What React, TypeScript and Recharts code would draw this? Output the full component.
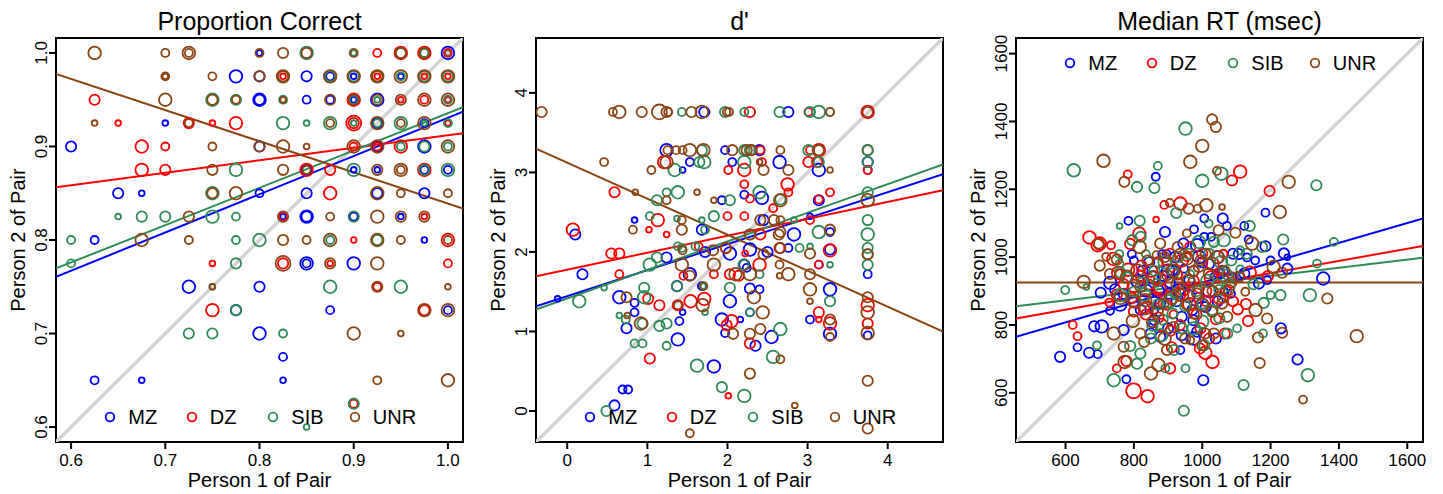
import React from 'react';
import { ScatterChart, Scatter, XAxis, YAxis, ReferenceLine, ReferenceArea, Legend } from 'recharts';

const FONT = '"Liberation Sans", Arial, Helvetica, sans-serif';

const groups = ['MZ', 'DZ', 'SIB', 'UNR'];
const colors = ['#0000FF', '#FF0000', '#2E8B57', '#8B4513'];

// ---- Proportion Correct ----
const pcDomain = [0.584, 1.016];
const pcTicks = [0.6, 0.7, 0.8, 0.9, 1.0];
const pcMZ = [
  [.8, 1, 1], [1, 1, 4], [.775, .975, 4], [.8, .975, 3], [.85, .975, 3], [.875, .975, 2], [.9, .975, 1], [.95, .975, 1],
  [.8, .95, 4], [.8, .95, 3], [.85, .95, 2], [.875, .95, 2], [.9, .95, 1], [.925, .95, 4], [.7, .925, 1], [.925, .925, 3],
  [.975, .925, 2], [.6, .9, 3], [.8, .9, 3], [.925, .9, 3], [.975, .9, 4], [.85, .875, 3], [.9, .875, 1], [.925, .875, 1],
  [.975, .875, 2], [1, .875, 2], [.65, .85, 3], [.675, .85, 1], [.8, .85, 2], [.85, .85, 3], [.925, .85, 3], [.975, .85, 3],
  [.825, .825, 1], [.85, .825, 4], [.85, .825, 3], [.9, .825, 2], [.95, .825, 1], [.625, .8, 2], [.975, .8, 1],
  [.85, .775, 4], [.85, .775, 2], [.9, .775, 4], [.725, .75, 4], [.8, .75, 3], [.775, .725, 3], [.875, .725, 2],
  [1, .725, 2], [.8, .7, 4], [.825, .675, 2], [.625, .65, 2], [.675, .65, 1], [.825, .65, 1],
];
const pcDZ = [
  [.925, 1, 2], [.95, 1, 4], [.975, 1, 4], [1, 1, 2], [.825, .975, 1], [.925, .975, 1], [.975, .975, 1], [1, .975, 1],
  [.625, .95, 3], [.9, .95, 4], [.95, .95, 1], [.975, .95, 2], [1, .95, 1], [.65, .925, 1], [.725, .925, 3], [.75, .925, 1],
  [.775, .925, 4], [.9, .925, 5], [.9, .925, 3], [1, .925, 1], [.675, .9, 4], [.7, .9, 2], [.9, .9, 2], [.925, .9, 2],
  [.95, .9, 4], [.675, .875, 4], [.7, .875, 3], [.85, .875, 4], [.875, .875, 3], [.975, .875, 4], [.875, .85, 4],
  [.825, .825, 2], [.975, .825, 1], [.9, .8, 1], [1, .8, 4], [.75, .775, 1], [.825, .775, 3], [.875, .775, 1],
  [1, .775, 2], [.925, .75, 2], [.75, .725, 4], [.975, .725, 3], [.9, .625, 2],
];
const pcSIB = [
  [.85, 1, 4], [.9, 1, 1], [.95, 1, 3], [.975, 1, 2], [.875, .975, 3], [.9, .975, 3], [.95, .975, 2], [.975, .975, 3],
  [1, .975, 3], [.75, .95, 4], [.775, .95, 3], [.825, .95, 2], [.9, .95, 2], [.925, .95, 1], [1, .95, 2], [.825, .925, 4],
  [.85, .925, 1], [.875, .925, 4], [.9, .925, 1], [.925, .925, 2], [.95, .925, 4], [.975, .925, 1], [1, .925, 2],
  [.95, .9, 2], [.975, .9, 3], [1, .9, 2], [.775, .875, 4], [.9, .875, 4], [.975, .875, 3], [1, .875, 4], [.75, .85, 4],
  [.65, .825, 1], [.675, .825, 3], [.7, .825, 3], [.75, .825, 4], [.775, .825, 2], [.9, .825, 3], [.6, .8, 2],
  [.775, .8, 2], [.8, .8, 4], [.875, .8, 2], [.925, .8, 3], [.6, .775, 2], [.775, .775, 3], [.75, .75, 1], [.875, .75, 4],
  [.95, .75, 4], [.775, .725, 3], [.725, .7, 3], [.75, .7, 3], [.825, .7, 2], [.9, .625, 3], [.85, .6, 1],
];
const pcUNR = [
  [.625, 1, 4], [.7, 1, 2], [.725, 1, 4], [.725, 1, 2], [.8, 1, 2], [.825, 1, 3], [.85, 1, 3], [.9, 1, 2], [.95, 1, 3],
  [.975, 1, 3], [1, 1, 1], [.7, .975, 2], [.7, .975, 1], [.75, .975, 2], [.8, .975, 3], [.825, .975, 4], [.825, .975, 3],
  [.875, .975, 4], [.9, .975, 4], [.925, .975, 4], [.925, .975, 3], [.95, .975, 4], [.975, .975, 4], [1, .975, 4],
  [.7, .95, 4], [.75, .95, 3], [.775, .95, 2], [.825, .95, 1], [.875, .95, 3], [.9, .95, 3], [.925, .95, 3], [.95, .95, 3],
  [.975, .95, 4], [1, .95, 4], [.625, .925, 1], [.725, .925, 2], [.875, .925, 2], [.925, .925, 4], [.95, .925, 2],
  [.975, .925, 4], [.75, .9, 2], [.8, .9, 3], [.825, .9, 4], [.85, .9, 1], [.9, .9, 4], [.925, .9, 4], [1, .9, 4],
  [.75, .875, 3], [.825, .875, 3], [.85, .875, 2], [.925, .875, 3], [.95, .875, 4], [.95, .875, 2], [.75, .85, 3],
  [.775, .85, 4], [.925, .85, 4], [.95, .85, 2], [1, .85, 2], [.725, .825, 3], [.825, .825, 3], [.875, .825, 2],
  [.925, .825, 4], [.95, .825, 3], [.975, .825, 3], [.675, .8, 4], [.725, .8, 2], [.825, .8, 3], [.85, .8, 2],
  [.875, .8, 4], [.925, .8, 4], [.95, .8, 2], [1, .8, 2], [.825, .775, 5], [.875, .775, 3], [.925, .775, 4],
  [.75, .75, 1], [.925, .75, 3], [1, .75, 1], [.975, .725, 4], [1, .725, 4], [.9, .7, 4], [.95, .7, 1], [.925, .65, 2],
  [1, .65, 4],
];
// intercept, slope per group
const pcFits = [[0.5217, 0.409], [0.7786, 0.1333], [0.5366, 0.399], [1.172, -0.333]];

// ---- d' ----
const dpDomain = [-0.39, 4.69];
const dpTicks = [0, 1, 2, 3, 4];
const dpMZ = [
  [1.71, 3.76, 3], [2.76, 3.76, 3], [1.24, 3.28, 4], [1.97, 3.28, 2], [2.40, 3.28, 3], [1.53, 3.13, 2], [2.06, 3.13, 2],
  [2.65, 3.13, 4], [3.75, 3.13, 3], [1.44, 3.03, 1], [3.14, 3.03, 4], [3.75, 3.03, 2], [1.93, 2.65, 2], [2.21, 2.72, 2],
  [2.43, 2.68, 4], [3.14, 2.65, 3], [0.84, 2.40, 1], [1.68, 2.28, 3], [2.45, 2.40, 3], [3.03, 2.45, 1], [3.28, 2.25, 2],
  [0.10, 2.22, 3], [2.83, 2.22, 4], [2.28, 2.03, 4], [2.03, 1.98, 4], [1.72, 2.00, 3], [2.76, 2.05, 2], [3.28, 2.03, 3],
  [1.24, 1.93, 3], [0.19, 1.72, 3], [0.65, 1.43, 4], [3.75, 1.72, 2], [3.14, 1.84, 2], [1.53, 1.72, 4], [1.37, 1.57, 3],
  [1.68, 1.57, 2], [2.28, 1.54, 3], [2.40, 1.53, 2], [3.28, 1.53, 4], [-0.12, 1.41, 1], [0.84, 1.36, 2], [0.84, 1.24, 2],
  [0.74, 1.04, 3], [1.44, 1.24, 1], [1.40, 1.13, 2], [2.03, 1.38, 4], [1.93, 1.15, 4], [1.97, 0.98, 2], [2.28, 1.24, 2],
  [2.55, 0.93, 4], [3.03, 1.15, 2], [3.28, 0.97, 4], [3.75, 0.95, 2], [2.16, 1.15, 1], [1.38, 0.90, 4], [1.83, 0.56, 4],
  [0.69, 0.27, 2], [0.76, 0.27, 2], [0.59, 0.07, 3], [2.35, 0.82, 3], [2.21, 1.84, 3], [2.24, 1.80, 2], [2.50, 2.00, 3],
];
const dpDZ = [
  [2.28, 3.76, 3], [3.01, 3.76, 2], [3.75, 3.76, 4], [3.03, 3.28, 2], [3.14, 3.28, 4], [3.75, 3.28, 3], [2.41, 3.28, 2],
  [1.21, 3.13, 4], [3.01, 3.13, 3], [3.12, 3.13, 3], [2.43, 3.13, 2], [2.01, 3.03, 2], [2.21, 3.03, 4], [3.75, 3.03, 2],
  [0.59, 2.75, 3], [2.75, 2.85, 4], [2.76, 2.75, 2], [3.28, 2.75, 2], [2.21, 2.85, 2], [2.28, 2.67, 2], [3.14, 2.66, 2],
  [1.13, 2.40, 4], [2.00, 2.45, 2], [2.21, 2.45, 2], [2.57, 2.55, 2], [3.03, 2.40, 2], [0.07, 2.28, 4], [1.02, 2.28, 1],
  [1.24, 2.22, 1], [0.55, 1.98, 3], [0.65, 1.98, 3], [1.98, 2.05, 3], [2.41, 2.22, 3], [2.65, 2.05, 3], [3.28, 2.02, 4],
  [2.22, 1.98, 1], [1.64, 2.07, 2], [0.65, 1.72, 2], [1.83, 1.72, 2], [2.03, 1.72, 3], [2.40, 1.84, 4], [3.14, 1.84, 2],
  [2.14, 1.70, 3], [1.01, 1.41, 3], [1.15, 1.33, 3], [1.54, 1.38, 4], [1.71, 1.41, 4], [1.38, 1.33, 3], [2.05, 1.13, 4],
  [1.99, 1.08, 3], [3.14, 1.24, 3], [3.14, 1.15, 1], [3.28, 1.10, 4], [3.75, 1.33, 4], [3.75, 1.10, 3], [2.28, 0.85, 3],
  [1.03, 0.66, 3], [2.01, 0.19, 1], [1.45, 1.70, 2],
];
const dpSIB = [
  [1.43, 3.76, 2], [1.97, 3.76, 3], [2.21, 3.76, 2], [2.65, 3.76, 3], [3.03, 3.76, 3], [3.14, 3.76, 4], [3.28, 3.76, 2],
  [1.68, 3.28, 3], [2.21, 3.28, 3], [2.28, 3.28, 3], [3.01, 3.28, 3], [3.75, 3.28, 3], [1.65, 3.13, 3], [1.71, 3.13, 4],
  [2.21, 3.13, 4], [3.14, 3.13, 3], [3.75, 3.13, 3], [1.34, 3.03, 4], [1.12, 2.65, 3], [1.24, 2.75, 2], [1.38, 2.75, 4],
  [2.03, 2.65, 3], [2.40, 2.75, 4], [3.75, 2.75, 3], [2.66, 2.66, 3], [1.03, 2.45, 2], [1.37, 2.42, 1], [1.68, 2.40, 1],
  [1.83, 2.45, 3], [3.14, 2.25, 4], [3.75, 2.40, 3], [2.83, 2.40, 1], [1.72, 2.28, 2], [2.28, 2.22, 3], [3.75, 2.22, 4],
  [3.75, 2.05, 3], [3.75, 1.97, 3], [1.38, 2.07, 2], [1.60, 2.07, 2], [1.12, 1.93, 3], [1.43, 2.05, 2], [2.90, 2.05, 2],
  [3.03, 2.07, 1], [1.03, 1.84, 4], [0.96, 1.55, 3], [0.46, 1.55, 1], [2.03, 1.55, 3], [1.37, 1.57, 3], [2.40, 1.72, 2],
  [3.28, 1.84, 1], [3.75, 1.84, 3], [1.70, 1.57, 1], [2.20, 1.84, 3], [0.15, 1.38, 4], [0.96, 1.43, 4], [0.65, 1.20, 1],
  [0.73, 1.15, 2], [0.94, 1.10, 3], [1.15, 1.07, 3], [1.24, 1.10, 3], [0.84, 0.85, 2], [0.94, 0.85, 2], [1.24, 0.82, 2],
  [1.72, 1.24, 1], [2.28, 1.24, 2], [2.66, 1.03, 4], [3.28, 1.38, 3], [2.57, 0.68, 4], [1.62, 0.57, 4], [1.93, 0.30, 3],
  [2.21, 0.19, 4], [0.49, 0.00, 3],
];
const dpUNR = [
  [-0.32, 3.76, 3], [0.57, 3.76, 2], [0.65, 3.76, 4], [0.93, 3.76, 3], [1.15, 3.76, 5], [1.24, 3.76, 3], [1.26, 3.76, 2],
  [1.55, 3.76, 3], [1.68, 3.76, 4], [1.99, 3.76, 2], [2.02, 3.76, 2], [3.28, 3.76, 2], [3.75, 3.76, 3], [1.25, 3.28, 2],
  [1.36, 3.28, 2], [1.44, 3.28, 2], [1.53, 3.28, 4], [1.70, 3.28, 4], [2.06, 3.28, 3], [2.24, 3.28, 3], [2.66, 3.28, 2],
  [3.14, 3.28, 3], [2.30, 3.28, 3], [0.46, 3.13, 2], [1.24, 3.13, 4], [2.40, 3.13, 1], [1.05, 3.03, 2], [2.45, 3.03, 3],
  [2.76, 3.03, 3], [3.28, 3.03, 1], [0.85, 2.75, 1], [1.62, 2.75, 1], [1.24, 2.65, 2], [1.83, 2.65, 1], [2.66, 2.65, 4],
  [3.75, 2.65, 4], [0.82, 2.28, 2], [1.43, 2.28, 3], [2.41, 2.40, 3], [2.58, 2.40, 3], [2.66, 2.40, 2], [3.28, 2.28, 3],
  [1.43, 2.40, 2], [2.66, 2.25, 3], [3.75, 1.97, 3], [3.03, 1.98, 3], [1.82, 2.02, 3], [1.98, 2.05, 3], [2.45, 1.97, 3],
  [2.64, 2.22, 3], [2.28, 2.22, 3], [1.44, 2.02, 2], [2.66, 2.05, 3], [1.43, 1.84, 4], [1.83, 1.84, 4], [1.53, 1.70, 3],
  [2.28, 1.72, 4], [2.76, 1.72, 4], [3.03, 1.72, 3], [3.03, 1.53, 4], [2.65, 1.84, 2], [2.65, 1.70, 1], [2.10, 1.72, 4],
  [1.70, 1.57, 2], [0.74, 1.43, 3], [0.75, 1.20, 1], [0.92, 1.10, 4], [1.38, 1.33, 2], [1.69, 1.33, 4], [2.33, 1.43, 4],
  [2.28, 0.97, 3], [2.07, 0.97, 3], [2.41, 1.03, 3], [2.44, 1.24, 4], [3.28, 1.15, 3], [3.28, 0.93, 2], [3.75, 1.43, 3],
  [3.75, 1.24, 4], [3.75, 0.98, 4], [3.03, 1.38, 1], [2.66, 0.65, 2], [2.28, 0.47, 3], [3.75, 0.38, 3], [2.84, 0.07, 1],
  [1.53, -0.28, 2], [3.75, -0.22, 3],
];
const dpFits = [[1.444, 0.327], [1.777, 0.213], [1.415, 0.359], [3.123, -0.453]];

// ---- Median RT (msec) ----
const rtDomain = [455, 1646];
const rtTicks = [600, 800, 1000, 1200, 1400, 1600];
const rtMZ = [
  [584, 706, 3], [635, 734, 2], [669, 718, 3], [694, 714, 2], [684, 796, 3], [706, 796, 4], [703, 895, 3], [731, 924, 4],
  [730, 842, 2], [770, 785, 3], [778, 640, 2], [794, 1009, 2], [784, 1107, 2], [864, 1237, 2], [891, 1074, 3],
  [883, 1009, 2], [896, 1009, 2], [976, 1082, 2], [1006, 1114, 2], [1060, 1114, 3], [1072, 1092, 2], [1136, 1052, 2],
  [1185, 1131, 2], [1006, 1060, 2], [1026, 1060, 2], [1107, 1009, 3], [1131, 999, 2], [1155, 990, 2], [1185, 1032, 3],
  [1200, 990, 2], [1239, 1011, 3], [1249, 966, 3], [1249, 1000, 1], [1354, 937, 4], [1279, 698, 3], [1230, 790, 3],
  [1003, 637, 3], [936, 726, 2], [975, 760, 4], [877, 765, 3], [849, 775, 3], [859, 844, 2], [835, 902, 4], [855, 940, 4],
  [884, 945, 3], [903, 892, 3], [932, 902, 4], [962, 932, 3], [991, 1000, 4], [1020, 980, 3], [1050, 950, 3],
  [1084, 892, 2], [1010, 853, 3], [971, 844, 3], [877, 863, 3], [799, 868, 3], [770, 892, 3], [855, 804, 2], [940, 824, 3],
  [974, 814, 3], [913, 961, 3], [947, 966, 2], [1035, 942, 2], [1065, 898, 2], [1123, 952, 3], [1166, 922, 3],
  [1190, 932, 2], [1123, 1092, 2], [810, 930, 4], [825, 960, 3], [845, 985, 3], [900, 960, 4], [920, 1000, 3],
  [945, 1040, 3], [985, 1035, 4], [1000, 985, 3], [1045, 1000, 4], [1060, 960, 3], [1090, 1010, 3], [1110, 945, 2],
  [870, 900, 4], [905, 925, 3], [925, 870, 3], [960, 885, 4], [990, 880, 3], [1020, 900, 4], [1045, 870, 3], [820, 845, 3],
  [860, 815, 3], [900, 790, 3], [940, 770, 3], [985, 780, 3], [1040, 760, 3], [760, 860, 4], [745, 905, 3], [800, 990, 2],
];
const rtDZ = [
  [670, 1058, 4], [694, 1035, 4], [621, 800, 2], [635, 767, 2], [782, 1244, 2], [865, 1111, 1], [889, 1154, 2],
  [936, 1158, 4], [1087, 1226, 3], [1111, 1252, 4], [1197, 1195, 3], [816, 1069, 4], [789, 1039, 3], [754, 954, 4],
  [733, 1035, 2], [799, 606, 5], [840, 590, 4], [750, 672, 2], [778, 694, 3], [906, 672, 3], [911, 734, 3], [993, 731, 3],
  [1009, 718, 4], [1030, 691, 4], [907, 783, 3], [1066, 775, 3], [1134, 812, 3], [1139, 954, 4], [1104, 846, 3],
  [1192, 944, 3], [877, 903, 4], [844, 919, 3], [932, 890, 4], [962, 861, 4], [991, 910, 3], [1010, 871, 3], [1050, 880, 4],
  [835, 831, 3], [794, 880, 3], [872, 822, 3], [916, 831, 2], [983, 831, 3], [1040, 817, 3], [877, 935, 4], [926, 949, 3],
  [975, 959, 3], [1053, 959, 2], [750, 890, 3], [760, 949, 3], [822, 975, 3], [896, 990, 3], [955, 1000, 2],
  [1012, 900, 3], [1090, 870, 3], [1128, 862, 3], [1062, 1010, 2], [728, 866, 2], [783, 963, 4], [800, 915, 4],
  [820, 945, 3], [850, 960, 4], [870, 985, 3], [905, 1010, 3], [940, 990, 4], [965, 1030, 3], [1000, 1010, 3],
  [1030, 980, 4], [1060, 940, 3], [1085, 925, 3], [860, 880, 4], [895, 860, 3], [945, 905, 4], [975, 930, 3],
  [1025, 940, 4], [1070, 900, 3], [830, 850, 3], [880, 800, 4], [935, 800, 3], [995, 790, 3], [1020, 760, 3],
  [770, 920, 3], [740, 995, 4], [700, 1040, 4], [800, 840, 3],
];
const rtSIB = [
  [624, 1256, 4], [951, 1379, 4], [1000, 1225, 4], [1056, 1246, 4], [870, 1269, 2], [860, 1204, 3], [809, 1207, 3],
  [924, 1130, 3], [817, 1107, 3], [758, 1092, 1], [1334, 1212, 3], [1385, 1045, 2], [1336, 981, 2], [1315, 888, 4],
  [1229, 888, 3], [1237, 1052, 3], [1175, 1030, 3], [1139, 1092, 3], [1180, 865, 3], [1309, 652, 4], [1121, 623, 3],
  [946, 547, 3], [741, 637, 4], [951, 672, 2], [809, 686, 3], [692, 740, 2], [599, 903, 2], [661, 912, 1], [917, 726, 3],
  [892, 672, 2], [975, 790, 4], [1073, 775, 3], [1102, 790, 2], [1034, 1045, 3], [1063, 1050, 4], [1111, 1020, 2],
  [1019, 1099, 2], [1006, 740, 3], [800, 898, 3], [761, 888, 4], [789, 738, 3], [819, 716, 3], [854, 798, 3],
  [884, 816, 3], [913, 834, 3], [1001, 863, 3], [1030, 844, 3], [1050, 903, 3], [825, 925, 3], [867, 924, 2],
  [923, 890, 3], [757, 1009, 2], [795, 1050, 3], [758, 980, 2], [835, 1009, 2], [916, 954, 3], [965, 949, 2],
  [1073, 949, 3], [1111, 964, 2], [1200, 888, 2], [1178, 775, 2], [830, 890, 4], [860, 960, 3], [890, 985, 4],
  [930, 1000, 3], [960, 1010, 3], [990, 1045, 4], [1020, 1010, 3], [1055, 985, 4], [1085, 990, 3], [870, 860, 3],
  [905, 870, 4], [950, 855, 3], [985, 900, 3], [1015, 930, 4], [1045, 920, 3], [1080, 915, 3], [850, 760, 3],
  [880, 770, 4], [940, 790, 3], [1000, 810, 4], [1050, 820, 3], [780, 940, 3], [760, 955, 3], [820, 1060, 3],
  [1130, 1010, 3], [1150, 920, 3],
];
const rtUNR = [
  [711, 1284, 4], [772, 1222, 3], [965, 1281, 4], [1000, 1328, 4], [1029, 1406, 3], [1040, 1384, 3], [1043, 1254, 2],
  [987, 1143, 2], [1012, 1153, 4], [960, 1143, 3], [905, 1160, 2], [1253, 1222, 4], [1227, 1133, 4], [1058, 1148, 1],
  [1048, 1079, 3], [1097, 1072, 3], [1146, 1040, 4], [1209, 971, 4], [1234, 954, 3], [1366, 878, 3], [1452, 767, 4],
  [1295, 580, 2], [1168, 688, 3], [1163, 763, 3], [1234, 777, 3], [1190, 819, 3], [1156, 844, 4], [1126, 898, 2],
  [1107, 942, 3], [1078, 903, 3], [1058, 863, 3], [1029, 839, 3], [1009, 775, 3], [965, 755, 2], [916, 794, 3],
  [872, 682, 4], [850, 657, 4], [773, 691, 4], [770, 736, 3], [741, 775, 4], [653, 927, 4], [697, 1040, 3], [719, 1001, 2],
  [750, 993, 3], [780, 942, 4], [817, 1030, 4], [797, 812, 4], [833, 873, 4], [887, 863, 3], [897, 947, 3], [928, 920, 4],
  [955, 996, 4], [990, 971, 3], [1019, 952, 3], [877, 1040, 3], [866, 1006, 2], [928, 1030, 3], [995, 991, 3],
  [955, 1070, 2], [819, 912, 3], [853, 809, 3], [941, 888, 4], [985, 893, 3], [819, 775, 3], [897, 726, 3], [975, 834, 3],
  [1034, 775, 3], [1073, 824, 3], [810, 960, 4], [840, 990, 3], [860, 940, 4], [890, 1000, 3], [915, 960, 4],
  [935, 1010, 3], [960, 930, 4], [975, 960, 3], [1010, 1010, 3], [1045, 1000, 4], [1065, 960, 3], [1090, 940, 3],
  [800, 870, 4], [835, 850, 4], [870, 840, 3], [910, 880, 4], [955, 860, 3], [1000, 860, 4], [1030, 900, 3],
  [1060, 880, 3], [830, 750, 3], [890, 760, 4], [950, 760, 3], [1000, 740, 3], [760, 880, 4], [730, 950, 3], [700, 975, 3],
];
const rtFits = [[631.7, 0.293], [737.2, 0.1797], [800.4, 0.12], [925, 0]];

const toPoints = (rows: number[][]) => rows.map(([x, y, z]) => ({ x, y, z }));

const panels = [
  { title: 'Proportion Correct', left: 0, width: 480, marginRight: 17, domain: pcDomain, ticks: pcTicks,
    fmt: (v: number) => v.toFixed(1), series: [pcMZ, pcDZ, pcSIB, pcUNR], fits: pcFits, legendTop: 407 },
  { title: "d'", left: 480, width: 480, marginRight: 17, domain: dpDomain, ticks: dpTicks,
    fmt: (v: number) => String(v), series: [dpMZ, dpDZ, dpSIB, dpUNR], fits: dpFits, legendTop: 407 },
  { title: 'Median RT (msec)', left: 960, width: 483, marginRight: 20, domain: rtDomain, ticks: rtTicks,
    fmt: (v: number) => String(v), series: [rtMZ, rtDZ, rtSIB, rtUNR], fits: rtFits, legendTop: 53 },
];

const ring = (color: string) => (props: any) => {
  if (props.cx == null || props.cy == null) return <g />;
  return <circle cx={props.cx} cy={props.cy} r={1.7 + 1.15 * props.payload.z} fill="none" stroke={color} strokeWidth={1.8} />;
};

const YTick = (props: any) => {
  const { x, y, payload, fmt } = props;
  return (
    <text x={x} y={y} transform={`rotate(-90 ${x} ${y})`} textAnchor="middle" fill="#000" fontSize={17} fontFamily={FONT}>
      {fmt(payload.value)}
    </text>
  );
};

const GroupLegend = () => (
  <div style={{ position: 'relative', height: 20, fontFamily: FONT, fontSize: 20, color: '#000' }}>
    {groups.map((g, i) => (
      <div key={g} style={{ position: 'absolute', left: 104 + i * 81.5, top: 0, height: 20, display: 'flex', alignItems: 'center' }}>
        <svg width={12} height={12}>
          <circle cx={6} cy={6} r={4.3} fill="none" stroke={colors[i]} strokeWidth={1.8} />
        </svg>
        <span style={{ marginLeft: 12.3, lineHeight: '20px' }}>{g}</span>
      </div>
    ))}
  </div>
);

function Panel({ p }: { p: typeof panels[number] }) {
  const [lo, hi] = p.domain;
  const plotLeft = 56;
  const plotRight = p.width - p.marginRight;
  const cx = (plotLeft + plotRight) / 2;
  const textBase = { position: 'absolute' as const, fontFamily: FONT, color: '#000', textAlign: 'center' as const, whiteSpace: 'nowrap' as const };
  return (
    <div style={{ position: 'absolute', left: p.left, top: 0, width: p.width, height: 494 }}>
      <ScatterChart width={p.width} height={494} margin={{ top: 38, right: p.marginRight, bottom: 0, left: 0 }}>
        <XAxis type="number" dataKey="x" domain={p.domain} allowDataOverflow ticks={p.ticks} interval={0}
          tickFormatter={p.fmt} height={52} axisLine={false} tickSize={7} tickMargin={5}
          tickLine={{ stroke: '#000', strokeWidth: 2 }} tick={{ fill: '#000', fontSize: 17, fontFamily: FONT }} />
        <YAxis type="number" dataKey="y" domain={p.domain} allowDataOverflow ticks={p.ticks} interval={0}
          width={56} axisLine={false} tickSize={7} tickMargin={2}
          tickLine={{ stroke: '#000', strokeWidth: 2 }} tick={(t: any) => <YTick {...t} fmt={p.fmt} />} />
        <ReferenceLine segment={[{ x: lo, y: lo }, { x: hi, y: hi }]} stroke="#D3D3D3" strokeWidth={3.5} ifOverflow="hidden" />
        {p.series.map((rows, i) => (
          <Scatter key={groups[i]} name={groups[i]} data={toPoints(rows)} shape={ring(colors[i])}
            fill={colors[i]} isAnimationActive={false} />
        ))}
        {p.fits.map(([a, b], i) => (
          <ReferenceLine key={'fit' + i} segment={[{ x: lo, y: a + b * lo }, { x: hi, y: a + b * hi }]}
            stroke={colors[i]} strokeWidth={2} ifOverflow="hidden" />
        ))}
        <ReferenceArea x1={lo} x2={hi} y1={lo} y2={hi} fill="none" fillOpacity={0} stroke="#000" strokeWidth={2} ifOverflow="visible" />
        <Legend verticalAlign="middle" align="center" content={() => <GroupLegend />}
          wrapperStyle={{ left: 0, top: p.legendTop, width: p.width, height: 20 }} />
      </ScatterChart>
      <div style={{ ...textBase, left: cx - 200, width: 400, top: 8.8, fontSize: 25, lineHeight: '25px' }}>{p.title}</div>
      <div style={{ ...textBase, left: cx - 200, width: 400, top: 470.4, fontSize: 20, lineHeight: '20px' }}>Person 1 of Pair</div>
      <div style={{ ...textBase, left: 18 - 150, width: 300, top: 230, fontSize: 20, lineHeight: '20px', transform: 'rotate(-90deg)' }}>
        Person 2 of Pair
      </div>
    </div>
  );
}

export default function App() {
  return (
    <div style={{ position: 'absolute', left: 0, top: 0, width: 1443, height: 494, background: '#fff' }}>
      {panels.map((p) => (
        <Panel key={p.title} p={p} />
      ))}
    </div>
  );
}
